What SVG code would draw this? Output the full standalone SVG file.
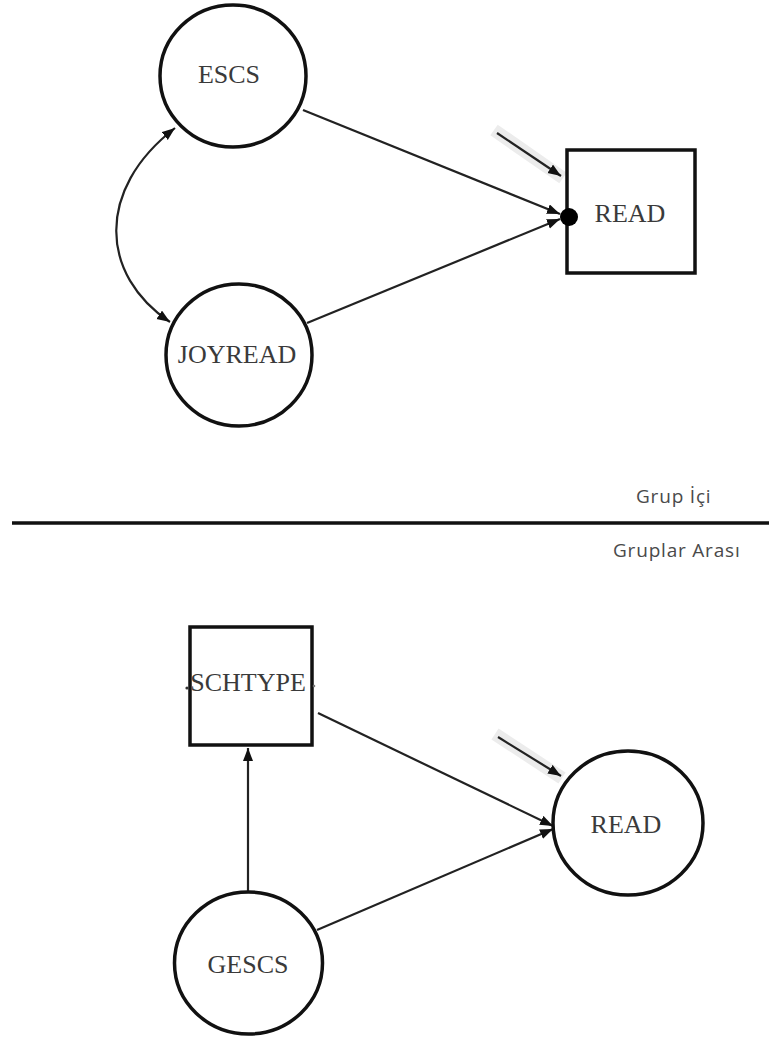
<svg xmlns="http://www.w3.org/2000/svg" width="769" height="1038" viewBox="0 0 769 1038">
<style>
.node{fill:#fff;stroke:#111;stroke-width:3.5}
.lbl{font-family:"Liberation Serif",serif;font-size:26px;fill:#3a3a3a;text-anchor:middle}
.cap{font-family:"Open Sans","Liberation Sans",sans-serif;font-size:19px;fill:#4a4a4a;letter-spacing:0.8px}
.edge{fill:none;stroke:#222;stroke-width:2.2}
.halo{fill:none;stroke:#ececec;stroke-width:13}
</style>
<defs>
<marker id="ah" markerUnits="userSpaceOnUse" markerWidth="14" markerHeight="12" refX="13" refY="5" orient="auto">
<path d="M0,0 L13,5 L0,10 Z" fill="#111"/>
</marker>
<marker id="ahs" markerUnits="userSpaceOnUse" markerWidth="14" markerHeight="12" refX="13" refY="5" orient="auto-start-reverse">
<path d="M0,0 L13,5 L0,10 Z" fill="#111"/>
</marker>
</defs>
<rect width="769" height="1038" fill="#fff"/>
<g id="connectors">
<line class="halo" x1="494" y1="130" x2="563" y2="178"/>
<line class="halo" x1="495" y1="734" x2="562" y2="778"/>
<line class="edge" x1="303" y1="110" x2="560" y2="214" marker-end="url(#ah)"/>
<line class="edge" x1="307" y1="323" x2="560" y2="219" marker-end="url(#ah)"/>
<path class="edge" d="M175,128 C95,190 100,275 170,322" marker-start="url(#ahs)" marker-end="url(#ah)"/>
<line class="edge" x1="497" y1="133" x2="561" y2="176" stroke-width="3" marker-end="url(#ah)"/>
<line class="edge" x1="248" y1="892" x2="248" y2="748" marker-end="url(#ah)"/>
<line class="edge" x1="318" y1="713" x2="553" y2="826" marker-end="url(#ah)"/>
<line class="edge" x1="317" y1="930" x2="553" y2="829" marker-end="url(#ah)"/>
<line class="edge" x1="498" y1="737" x2="561" y2="776" stroke-width="3" marker-end="url(#ah)"/>
</g>
<g id="ESCS">
<ellipse class="node" cx="233" cy="76" rx="73" ry="71"/>
<text class="lbl" x="229" y="83">ESCS</text>
</g>
<g id="JOYREAD">
<ellipse class="node" cx="239" cy="355" rx="73" ry="71"/>
<text class="lbl" x="237" y="363">JOYREAD</text>
</g>
<g id="READ_top">
<rect class="node" x="567" y="150" width="128" height="123" stroke-width="4"/>
<text class="lbl" x="630" y="222">READ</text>
<circle cx="569" cy="217" r="9" fill="#000"/>
</g>
<g id="divider">
<line x1="12" y1="523" x2="769" y2="523" stroke="#111" stroke-width="3.5"/>
<text class="cap" x="636" y="503">Grup İçi</text>
<text class="cap" x="613" y="557">Gruplar Arası</text>
</g>
<g id="SCHTYPE">
<rect class="node" x="190" y="627" width="122" height="118" stroke-width="4"/>
<text class="lbl" x="248" y="691" font-size="24.5">SCHTYPE</text>
<circle cx="187" cy="688" r="1.6" fill="#333"/>
<circle cx="314" cy="686" r="1.3" fill="#777"/>
</g>
<g id="READ_bottom">
<ellipse class="node" cx="628" cy="823" rx="75" ry="72"/>
<text class="lbl" x="626" y="833">READ</text>
</g>
<g id="GESCS">
<ellipse class="node" cx="248.5" cy="963" rx="74" ry="71"/>
<text class="lbl" x="248" y="973">GESCS</text>
</g>
</svg>
